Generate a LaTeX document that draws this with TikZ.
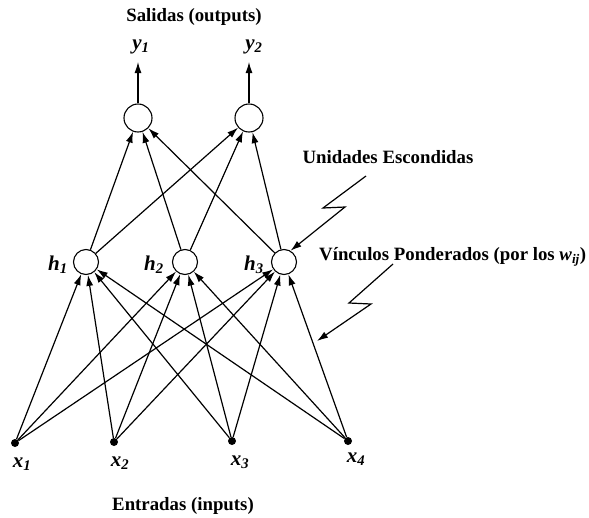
\documentclass[tikz,border=0pt]{standalone}
\usepackage{fontspec}
\setmainfont{Liberation Serif}
\usetikzlibrary{arrows.meta}
\begin{document}
\begin{tikzpicture}[x=1pt,y=-1pt,
  hid/.style={circle,draw,line width=1.1pt,minimum size=25pt,inner sep=0pt},
  outu/.style={circle,draw,line width=1.1pt,minimum size=28pt,inner sep=0pt},
  inp/.style={circle,fill,minimum size=8pt,inner sep=0pt},
  conn/.style={line width=1.2pt,-{Latex[length=11pt,width=7pt]}},
  lbl/.style={font=\fontsize{18.8}{22}\selectfont\bfseries,inner sep=0pt},
  var/.style={font=\fontsize{21}{24}\selectfont\bfseries\itshape,inner sep=0pt}]
\useasboundingbox[fill=white] (0,0) rectangle (589,517);
% units
\node[outu] (o1) at (138,118) {};
\node[outu] (o2) at (249,118) {};
\node[hid] (h1) at (86,262) {};
\node[hid] (h2) at (185,262) {};
\node[hid] (h3) at (284,262) {};
\node[inp] (x1) at (15,443) {};
\node[inp] (x2) at (114,442) {};
\node[inp] (x3) at (232,441) {};
\node[inp] (x4) at (348,441) {};
% variable labels
\node[var] (ly1) at (141,47) {y\textsubscript{1}};
\node[var] (ly2) at (254,47) {y\textsubscript{2}};
\node[var] (lh1) at (58,265) {h\textsubscript{1}};
\node[var] (lh2) at (154,265) {h\textsubscript{2}};
\node[var] (lh3) at (254,265) {h\textsubscript{3}};
\node[var] (lx1) at (22,464) {x\textsubscript{1}};
\node[var] (lx2) at (120,463) {x\textsubscript{2}};
\node[var] (lx3) at (240,462) {x\textsubscript{3}};
\node[var] (lx4) at (356,459) {x\textsubscript{4}};
% text labels
\node[lbl] (tout) at (194,17) {Salidas (outputs)};
\node[lbl] (tin) at (183,506) {Entradas (inputs)};
\node[lbl] (thid) at (388,157) {Unidades Escondidas};
\node[lbl,anchor=west] (tvin) at (319,257) {Vínculos Ponderados (por los \textit{w}\textsubscript{\textit{ij}})};
% connections
\foreach \i in {1,2,3,4}
  \foreach \j in {1,2,3}
    \draw[conn] (x\i) -- (h\j);
\foreach \j in {1,2,3}
  \foreach \k in {1,2}
    \draw[conn] (h\j) -- (o\k);
\draw[conn] (o1) -- (138,62) coordinate (ty1);
\draw[conn] (o2) -- (249,62) coordinate (ty2);
% pointers
\coordinate (tgt) at (317,341);
\draw[conn] (366,176) -- (323,208) -- (345,207) -- (h3.60);
\draw[conn] (393,264) -- (349,303) -- (371,304) -- (tgt);
\end{tikzpicture}
\end{document}
